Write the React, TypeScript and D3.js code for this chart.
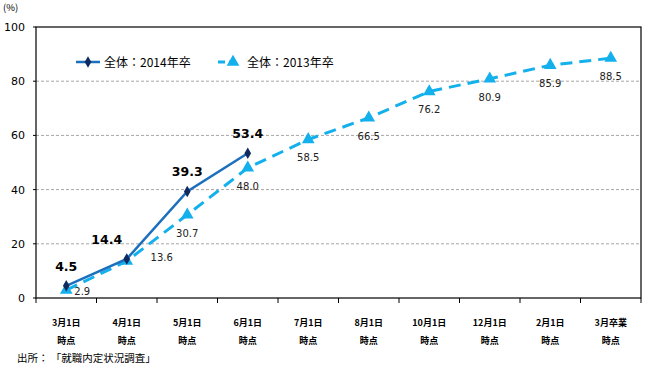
import React from "react";
import * as d3 from "d3";

const categories = ["3月1日", "4月1日", "5月1日", "6月1日", "7月1日", "8月1日", "10月1日", "12月1日", "2月1日", "3月卒業"];
const categorySub = ["時点", "時点", "時点", "時点", "時点", "時点", "時点", "時点", "時点", "時点"];
const series2014 = [4.5, 14.4, 39.3, 53.4];
const series2013 = [2.9, 13.6, 30.7, 48.0, 58.5, 66.5, 76.2, 80.9, 85.9, 88.5];
const yTicks = [0, 20, 40, 60, 80, 100];
const legendLabels = ["全体：2014年卒", "全体：2013年卒"];
const sourceText = "出所： 「就職内定状況調査」";

const W = 647, H = 370;
const FONT = "'Noto Sans CJK JP', 'Noto Sans', sans-serif";
const NUMFONT = "'DejaVu Sans', Verdana, sans-serif";
const C2014 = "#1c6fbd";
const C2014M = "#10295e";
const C2013 = "#14b0ec";

export default function App() {
  const left = 36, right = 641, top = 27, bottom = 298;
  const x = d3.scaleBand<string>().domain(categories).range([left, right]);
  const y = d3.scaleLinear().domain([0, 100]).range([bottom, top]);
  const cx = (i: number) => (x(categories[i]) as number) + x.bandwidth() / 2;
  const line = d3.line<number>().x((_, i) => cx(i)).y((d) => y(d));
  const tri = d3.symbol().type(d3.symbolTriangle).size(70)();
  const dia = d3.symbol().type(d3.symbolDiamond).size(38)();

  const lab2014Dx = (i: number) => (i === 1 ? -20 : 0);
  const lab2013Pos = (i: number) => {
    if (i === 0) return { dx: 16, dy: 5 };
    if (i === 1) return { dx: 35, dy: 0 };
    return { dx: 0, dy: 22 };
  };

  return (
    <svg width={W} height={H} style={{ position: "absolute", left: 0, top: 0, background: "#fff" }} fontFamily={FONT}>
      {yTicks.filter((t) => t > 0 && t < 100).map((t) => (
        <line key={t} x1={left} x2={right} y1={y(t)} y2={y(t)} stroke="#a6a6a6" strokeWidth={1} strokeDasharray="3,2" />
      ))}
      <rect x={left} y={top} width={right - left} height={bottom - top} fill="none" stroke="#000" strokeWidth={1.2} />
      {yTicks.map((t) => (
        <g key={t}>
          <line x1={left - 3} x2={left} y1={y(t)} y2={y(t)} stroke="#000" />
          <text x={25} y={y(t) + 4} textAnchor="end" fontSize={11} fill="#000" fontFamily={NUMFONT}>{t}</text>
        </g>
      ))}
      <text x={3} y={11} fontSize={9.5} fill="#000">(%)</text>
      {categories.map((c) => (
        <line key={c} x1={x(c) as number} x2={x(c) as number} y1={bottom} y2={bottom + 5} stroke="#000" />
      ))}
      <line x1={right} x2={right} y1={bottom} y2={bottom + 5} stroke="#000" />
      {categories.map((c, i) => (
        <g key={"l" + c} fontSize={9} fontWeight="bold" fill="#000" textAnchor="middle">
          <text x={cx(i)} y={326}>{c}</text>
          <text x={cx(i)} y={344}>{categorySub[i]}</text>
        </g>
      ))}
      <path d={line(series2013) || ""} fill="none" stroke={C2013} strokeWidth={3} strokeDasharray="12,7" />
      {series2013.map((v, i) => (
        <path key={"t" + i} d={tri || ""} transform={`translate(${cx(i)},${y(v)})`} fill={C2013} />
      ))}
      <path d={line(series2014) || ""} fill="none" stroke={C2014} strokeWidth={2.5} />
      {series2014.map((v, i) => (
        <path key={"d" + i} d={dia || ""} transform={`translate(${cx(i)},${y(v)})`} fill={C2014M} />
      ))}
      {series2013.map((v, i) => {
        const p = lab2013Pos(i);
        return (
          <text key={"lt" + i} x={cx(i) + p.dx} y={y(v) + p.dy} fontSize={10} fill="#222" textAnchor="middle" fontFamily={NUMFONT}>
            {v.toFixed(1)}
          </text>
        );
      })}
      {series2014.map((v, i) => (
        <text key={"ld" + i} x={cx(i) + lab2014Dx(i)} y={y(v) - 15} fontSize={12.5} fontWeight="bold" fill="#000" textAnchor="middle" fontFamily={NUMFONT}>
          {v.toFixed(1)}
        </text>
      ))}
      <line x1={76} x2={100} y1={62} y2={62} stroke={C2014} strokeWidth={2.5} />
      <path d={dia || ""} transform="translate(88,62)" fill={C2014M} />
      <text x={104} y={66.5} fontSize={12} fill="#000">{legendLabels[0]}</text>
      <line x1={218} x2={240} y1={62} y2={62} stroke={C2013} strokeWidth={3} strokeDasharray="7,4" />
      <path d={tri || ""} transform="translate(233,62)" fill={C2013} />
      <text x={247} y={66.5} fontSize={12} fill="#000">{legendLabels[1]}</text>
      <text x={17} y={362} fontSize={10.5} fill="#000">{sourceText}</text>
    </svg>
  );
}
